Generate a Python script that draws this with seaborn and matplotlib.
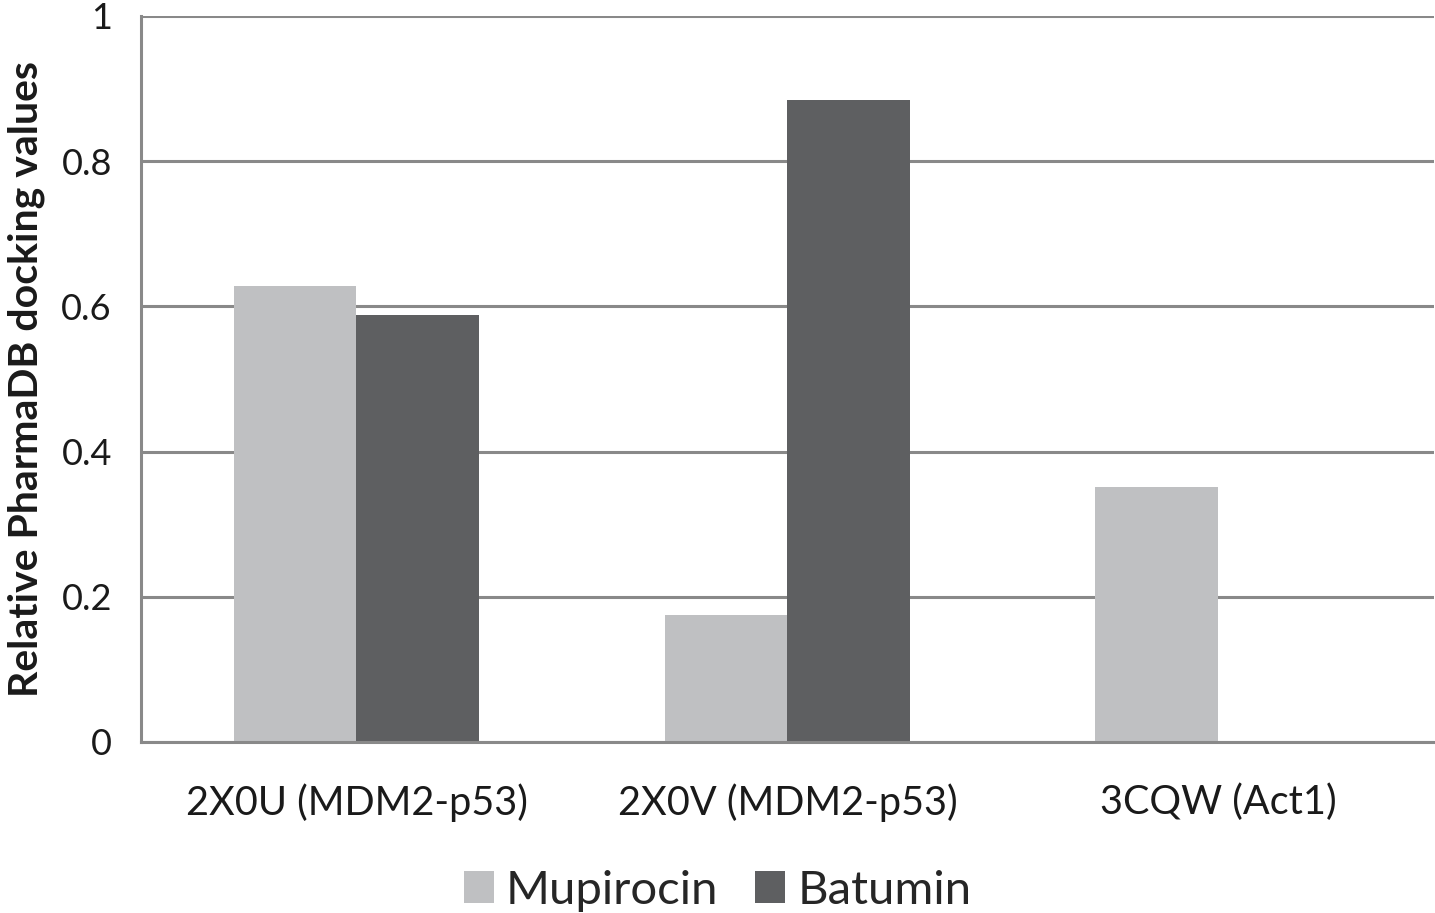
import pandas as pd
import numpy as np
import matplotlib
matplotlib.use('Agg')
import matplotlib.pyplot as plt
import seaborn as sns
from matplotlib.ticker import FixedLocator

targets = ['2X0U (MDM2-p53)', '2X0V (MDM2-p53)', '3CQW (Act1)']
mupirocin = [0.628, 0.175, 0.351]
batumin = [0.588, 0.884, 0.0]
compounds = ['Mupirocin', 'Batumin']
colors = ['#BFC0C2', '#5E5F61']

df = pd.DataFrame({
    'Target': targets * 2,
    'Value': mupirocin + batumin,
    'Compound': ['Mupirocin'] * 3 + ['Batumin'] * 3,
})

sns.set_style('white')
plt.rcParams['font.family'] = ['Lato', 'DejaVu Sans']

fig = plt.figure(figsize=(14.35, 9.13), dpi=100)
ax = fig.add_axes([0.0983, 0.1873, 0.9007, 0.7952])

sns.barplot(data=df, x='Target', y='Value', hue='Compound', hue_order=compounds,
            palette=colors, width=0.57, saturation=1, linewidth=0, ax=ax, legend=True)

grid_col = '#898989'
ax.set_ylim(0, 1)
ax.set_xlim(-0.5, 2.5)
ax.set_yticks([0, 0.2, 0.4, 0.6, 0.8, 1.0])
ax.set_yticklabels(['0', '0.2', '0.4', '0.6', '0.8', '1'])
ax.yaxis.grid(True, color=grid_col, linewidth=2.2)
ax.set_axisbelow(True)

ax.xaxis.set_minor_locator(FixedLocator([-0.5, 0.5, 1.5, 2.5]))
ax.tick_params(axis='x', which='major', length=0, pad=30, labelsize=28.5, labelcolor='#1a1a1a')
ax.tick_params(axis='x', which='minor', length=10, width=2.2, color=grid_col)
ax.tick_params(axis='y', length=9, width=2.2, color=grid_col, pad=12, labelsize=26,
               labelcolor='#1a1a1a')

for s in ['top', 'right']:
    ax.spines[s].set_visible(False)
ax.spines['left'].set_color(grid_col)
ax.spines['left'].set_linewidth(2.2)
ax.spines['bottom'].set_color(grid_col)
ax.spines['bottom'].set_linewidth(2.2)

ax.set_xlabel('')
ax.set_ylabel('Relative PharmaDB docking values', fontsize=29.5, fontweight='bold',
              color='#1a1a1a', labelpad=12)

handles, labels = ax.get_legend_handles_labels()
ax.get_legend().remove()
fig.legend(handles, labels, loc='lower center', bbox_to_anchor=(0.5, -0.045), ncol=2,
           frameon=False, fontsize=34, handlelength=0.64, handleheight=0.64,
           handletextpad=0.26, columnspacing=0.77)

fig.savefig('out.png', dpi=100)
